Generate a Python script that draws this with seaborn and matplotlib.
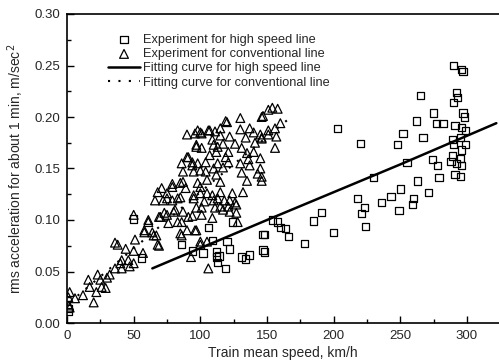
import numpy as np
import pandas as pd
import matplotlib
matplotlib.use("Agg")
import matplotlib.pyplot as plt
import seaborn as sns

# ---------------------------------
# data  (speed km/h, rms acc m/s2)
# ---------------------------------
# high speed line (squares)
hs_points = [
    (1, 0.011), (1, 0.014), (50, 0.101), (56, 0.063), (86, 0.076), (94, 0.070),
    (102, 0.068), (106, 0.093), (109, 0.080), (112, 0.069), (112, 0.064),
    (113, 0.059), (114, 0.065), (119, 0.053), (120, 0.079), (122, 0.072),
    (124, 0.098), (131, 0.064), (134, 0.062), (137, 0.066), (147, 0.086),
    (147, 0.071), (148, 0.086), (148, 0.069), (154, 0.100), (158, 0.098),
    (160, 0.093), (164, 0.092), (166, 0.084), (178, 0.077), (185, 0.099),
    (191, 0.107), (200, 0.088), (203, 0.189), (218, 0.121), (220, 0.174),
    (221, 0.106), (223, 0.112), (224, 0.094), (230, 0.141), (236, 0.117),
    (243, 0.123), (248, 0.173), (249, 0.109), (250, 0.130), (252, 0.184),
    (255, 0.156), (259, 0.115), (260, 0.121), (262, 0.196), (263, 0.138),
    (265, 0.221), (267, 0.180), (271, 0.127), (274, 0.159), (275, 0.204),
    (277, 0.194), (278, 0.153), (279, 0.141), (282, 0.194), (288, 0.157),
    (289, 0.178), (289, 0.162), (290, 0.250), (290, 0.214), (290, 0.173),
    (291, 0.192), (291, 0.144), (292, 0.224), (292, 0.155), (293, 0.219),
    (295, 0.180), (295, 0.160), (295, 0.142), (296, 0.246), (296, 0.190),
    (296, 0.168), (296, 0.153), (297, 0.244), (297, 0.204), (298, 0.200),
    (299, 0.187), (299, 0.173),
]

# conventional line (triangles)
cv_points = [
    (1, 0.025), (1.5, 0.017), (2, 0.030), (2, 0.015), (6, 0.024), (12, 0.027),
    (16, 0.042), (17, 0.035), (20, 0.020), (22, 0.030), (23, 0.047), (25, 0.042),
    (26, 0.035), (29, 0.034), (30, 0.044), (32, 0.047), (36, 0.078), (36, 0.053),
    (38, 0.076), (40, 0.058), (41, 0.061), (41, 0.053), (44, 0.072), (46, 0.061),
    (47, 0.055), (50, 0.105), (50, 0.070), (50, 0.058), (51, 0.081), (57, 0.068),
    (58, 0.088), (58, 0.090), (61, 0.098), (61, 0.100), (64, 0.088), (65, 0.085),
    (66, 0.119), (67, 0.085), (68, 0.076), (68, 0.127), (69, 0.075), (69, 0.103),
    (70, 0.103), (71, 0.131), (72, 0.119), (73, 0.107), (75, 0.126), (75, 0.121),
    (75, 0.105), (76, 0.097), (79, 0.119), (79, 0.132), (79, 0.135), (80, 0.108),
    (81, 0.110), (83, 0.121), (83, 0.098), (85, 0.087), (85, 0.122), (85, 0.136),
    (86, 0.155), (86, 0.098), (86, 0.085), (87, 0.137), (87, 0.147), (87, 0.108),
    (89, 0.131), (90, 0.183), (90, 0.161), (90, 0.090), (91, 0.103), (91, 0.161),
    (93, 0.064), (94, 0.104), (94, 0.156), (94, 0.153), (95, 0.124), (95, 0.121),
    (95, 0.147), (96, 0.184), (96, 0.090), (97, 0.171), (97, 0.112), (97, 0.173),
    (97, 0.090), (98, 0.187), (98, 0.155), (98, 0.136), (100, 0.185), (100, 0.148),
    (100, 0.132), (100, 0.126), (100, 0.079), (100, 0.076), (101, 0.105),
    (101, 0.184), (101, 0.170), (101, 0.112), (103, 0.118), (104, 0.156),
    (104, 0.147), (105, 0.126), (105, 0.139), (105, 0.079), (106, 0.053),
    (106, 0.187), (107, 0.163), (107, 0.187), (109, 0.124), (109, 0.178),
    (109, 0.102), (110, 0.173), (110, 0.150), (110, 0.119), (111, 0.186),
    (111, 0.112), (112, 0.166), (112, 0.144), (113, 0.121), (113, 0.155),
    (113, 0.171), (115, 0.189), (115, 0.182), (115, 0.137), (115, 0.113),
    (115, 0.127), (117, 0.174), (117, 0.151), (117, 0.110), (118, 0.119),
    (119, 0.196), (119, 0.161), (120, 0.195), (121, 0.166), (121, 0.156),
    (121, 0.113), (122, 0.181), (122, 0.108), (122, 0.119), (124, 0.126),
    (126, 0.174), (126, 0.117), (127, 0.107), (127, 0.115), (128, 0.098),
    (130, 0.199), (130, 0.188), (130, 0.155), (131, 0.170), (131, 0.146),
    (132, 0.127), (134, 0.180), (135, 0.165), (135, 0.138), (136, 0.159),
    (137, 0.189), (137, 0.153), (140, 0.185), (140, 0.166), (141, 0.175),
    (143, 0.145), (145, 0.183), (145, 0.160), (145, 0.150), (146, 0.179),
    (146, 0.138), (146, 0.200), (146, 0.180), (146, 0.142), (147, 0.201),
    (151, 0.207), (151, 0.187), (151, 0.183), (154, 0.209), (156, 0.189),
    (156, 0.170), (157, 0.181), (158, 0.208), (160, 0.194),
]

# fitting curves
fit_hs_speed = [64, 150, 250, 322]
fit_hs_acc = [0.053, 0.100, 0.154, 0.194]
fit_cv_speed = [2, 57, 110, 168]
fit_cv_acc = [0.020, 0.080, 0.138, 0.200]

hs = pd.DataFrame(hs_points, columns=["speed", "acc"])
cv = pd.DataFrame(cv_points, columns=["speed", "acc"])
fit_hs = pd.DataFrame({"speed": fit_hs_speed, "acc": fit_hs_acc})
fit_cv = pd.DataFrame({"speed": fit_cv_speed, "acc": fit_cv_acc})

sns.set_style("ticks")
plt.rcParams["font.family"] = ["Liberation Sans", "DejaVu Sans"]

fig = plt.figure(figsize=(4.99, 3.62), dpi=100)
ax = fig.add_axes([67 / 499, 39 / 362, 432 / 499, 309 / 362])

sns.scatterplot(data=hs, x="speed", y="acc", marker="s", s=28,
                facecolor="none", edgecolor="black", linewidth=0.9,
                label="Experiment for high speed line", ax=ax)
sns.scatterplot(data=cv, x="speed", y="acc", marker="^", s=40,
                facecolor="none", edgecolor="black", linewidth=0.9,
                label="Experiment for conventional line", ax=ax)
sns.lineplot(data=fit_hs, x="speed", y="acc", color="black", linewidth=1.8,
             label="Fitting curve for high speed line", ax=ax)
sns.lineplot(data=fit_cv, x="speed", y="acc", color="black", linewidth=1.5,
             linestyle=(0, (1, 4)), label="Fitting curve for conventional line", ax=ax)

ax.set_xlim(0, 324)
ax.set_ylim(0, 0.30)
ax.set_xticks(np.arange(0, 301, 50))
ax.set_xticks(np.arange(25, 324, 50), minor=True)
ax.set_yticks(np.arange(0, 0.301, 0.05))
ax.set_yticks(np.arange(0.025, 0.30, 0.05), minor=True)
ax.yaxis.set_major_formatter(matplotlib.ticker.FormatStrFormatter("%.2f"))
ax.tick_params(which="both", direction="in", labelsize=9.5, color="black", pad=5)
ax.tick_params(which="major", length=5, width=1)
ax.tick_params(which="minor", length=3, width=1)
ax.spines["right"].set_visible(False)
for s in ["left", "bottom", "top"]:
    ax.spines[s].set_linewidth(1.2)
    ax.spines[s].set_color("black")

ax.set_xlabel("Train mean speed, km/h", fontsize=10, labelpad=3)
ax.set_ylabel("rms acceleration for about 1 min, m/sec$^2$", fontsize=10, labelpad=6)

ax.legend(loc="upper left", bbox_to_anchor=(0.095, 0.935), frameon=False,
          fontsize=9.2, handlelength=2.5, handletextpad=0.2, labelspacing=0.17,
          borderaxespad=0, borderpad=0)

plt.savefig("out.png", dpi=100)
